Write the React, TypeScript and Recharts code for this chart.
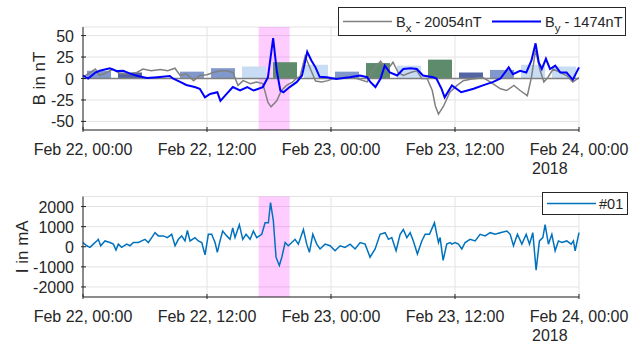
import React from 'react';
import { ComposedChart, Line, Bar, Cell, XAxis, YAxis, CartesianGrid, ReferenceArea, ReferenceLine, Legend } from 'recharts';

const FONT = '"Liberation Sans", Arial, Helvetica, sans-serif';
const INK = '#262626';
const GRID = '#e3e3e3';

// x in hours since Feb 22, 00:00
const xTicks = [0, 12, 24, 36, 48];
const xTickLabels = ['Feb 22, 00:00', 'Feb 22, 12:00', 'Feb 23, 00:00', 'Feb 23, 12:00', 'Feb 24, 00:00'];
const yearLabel = '2018';

const eventWindow = [17, 20];

const bTicks = [-50, -25, 0, 25, 50];
const iTicks = [-2000, -1000, 0, 1000, 2000];

// 3-hour blocks behind the field traces
const blockHours = [1.5, 4.5, 7.5, 10.5, 13.5, 16.5, 19.5, 22.5, 25.5, 28.5, 31.5, 34.5, 37.5, 40.5, 43.5, 46.5];
const blockValues = [9, 7, 0, 8, 12, 14, 19, 16, 8, 18, 15, 22, 7, 10, 16, 14];
const blockKinds = [1, 2, 0, 1, 1, 0, 3, 0, 1, 3, 0, 3, 2, 1, 0, 0];
const blockColors = ['#c8dcf4', '#8098cc', '#5366a3', '#5f8b6d'];

// B_x (offset removed), nT
const bx: [number, number][] = [
  [0, 1.5], [0.7, 7], [1.2, 11], [1.6, 3.5], [2.3, 7], [2.9, 11], [3.6, 5.5], [4.5, 5.5], [5.2, 7], [5.8, 11],
  [6.6, 9], [7.5, 10.5], [8.2, 9], [8.9, 12], [9.4, 3.5], [10, 5.5], [10.7, -2.5], [11.3, 3.5], [12, 4.3], [12.6, 7],
  [13.3, 9], [13.9, 9], [14.5, 7], [15, -8], [15.5, -2.5], [16.2, -6], [16.8, -4], [17.4, -6], [17.9, -28], [18.2, -33],
  [18.75, -26], [19.2, -14], [19.7, -8], [20.3, -4], [20.7, 1], [21, 2], [21.5, 26], [22.05, 10], [22.5, -3], [23.1, -4],
  [23.7, -2.5], [24.2, 0], [25.5, 1.5], [26.5, 0], [27.5, -4], [28.1, 11], [28.8, 20], [29.4, 9], [30, 19], [30.5, 7],
  [31, 3.5], [31.7, 7], [32.3, 9], [32.8, 0], [33.3, 0], [33.8, -14], [34.1, -32], [34.4, -41.5], [34.9, -32], [35.5, -16],
  [36.2, -8], [36.8, -2.5], [37.5, -1], [38.7, 1], [39.4, -4], [40.4, -12], [41, -14], [41.7, -8], [42.3, -14], [43, -20],
  [43.4, 1.5], [43.8, 33], [44.2, 11], [44.6, -4], [45, 1.5], [45.5, 11], [46.2, 7], [46.8, 3.5], [47.4, -4], [48, 1],
];

// B_y (offset removed), nT
const by: [number, number][] = [
  [0, 3.5], [0.5, 0], [1.2, 7], [1.6, 9], [2.6, 12], [3.3, 8.6], [3.9, 9], [4.5, 6], [5.3, 3], [6.2, 0.5],
  [7.2, 1.5], [8.4, 3], [8.7, 0], [9.4, -4], [10, -7.5], [10.8, -10], [11.3, -12], [11.8, -22], [12.3, -18], [13, -16],
  [13.3, -26], [13.9, -18], [14.5, -10], [15.2, -14], [15.9, -10], [16.5, -14], [17.4, -10], [17.9, 1.5], [18.4, 47], [18.75, 9],
  [19.1, -14], [19.4, -16], [20, -10], [20.7, -4], [21.2, 3.5], [21.7, 31], [22.1, 21], [22.5, 13], [22.9, 2], [23.6, 1.5],
  [24.5, -0.5], [25.8, 1.5], [26.8, 3.5], [27.5, 1.5], [27.8, -4], [28.3, -10], [28.8, 0], [29.2, 15], [29.7, 7], [30.4, 3.5],
  [31, 11], [31.7, 12], [32.3, 11], [32.9, 3.5], [33.9, 1.5], [34.2, 0], [34.7, -12], [35, -22], [35.7, -8], [36.6, -16],
  [37.8, -12], [38.7, -8], [39.7, -4], [40.4, 0], [41.2, 13], [41.6, 5], [42.3, 9], [42.9, 7], [43.4, 21], [43.8, 41],
  [44.1, 19], [44.4, 11], [44.8, 23], [45.2, 11], [45.7, 15], [46.2, 7], [46.8, 7], [47.4, -1.5], [48, 13],
];

// current #01, mA
const current: [number, number][] = [
  [0, 210], [0.36, 50], [0.68, -30], [1.0, 130], [1.33, 290], [1.48, 370], [1.71, 50], [2.13, 290], [2.61, 210], [2.94, 130],
  [3.19, -160], [3.42, 130], [3.74, -30], [4.23, 130], [4.55, 50], [4.87, 210], [5.36, 210], [5.68, 290], [6.0, 370], [6.32, 210],
  [6.65, 455], [6.97, 700], [7.29, 540], [7.78, 540], [8.16, 455], [8.58, 620], [8.91, 50], [9.23, 370], [9.55, 540], [9.87, 290],
  [10.1, 810], [10.36, 290], [10.84, 455], [11.16, 290], [11.49, 210], [11.81, -400], [12.13, 620], [12.45, 620], [12.78, 210], [13.0, -280],
  [13.26, 290], [13.52, 780], [13.91, 540], [14.23, 370], [14.49, 940], [14.71, 455], [15.13, 1100], [15.46, 370], [15.78, 620], [16.17, 370],
  [16.49, 780], [16.81, 455], [17.3, 620], [17.62, 1190], [17.94, 1190], [18.15, 2200], [18.42, 1300], [18.68, -520], [19.0, -930], [19.24, -520],
  [19.56, 210], [19.87, 50], [20.2, 210], [20.52, 370], [20.84, 130], [21.33, 860], [21.65, 130], [21.91, -280], [22.24, 620], [22.62, 130],
  [22.94, -110], [23.43, 130], [23.91, 50], [24.39, -200], [24.88, 50], [25.36, -30], [25.85, 130], [26.33, -110], [26.82, 210], [27.3, 130],
  [27.78, -520], [28.27, -110], [28.75, 620], [29.24, 700], [29.56, 370], [29.88, 455], [30.3, -200], [30.69, 620], [31.0, 860], [31.34, 455],
  [31.66, 700], [31.97, 290], [32.36, -360], [32.79, 290], [33.11, 620], [33.53, 620], [34.01, 1190], [34.4, 210], [34.56, 455], [34.85, -680],
  [35.2, 130], [35.53, 210], [35.69, 130], [36.01, 210], [36.33, 130], [36.66, -110], [36.98, 210], [37.46, 370], [37.95, 290], [38.43, 620],
  [38.92, 540], [39.4, 700], [39.88, 620], [40.37, 700], [41.02, 780], [41.34, 620], [41.66, 50], [42.04, 620], [42.47, 130], [42.89, 620],
  [43.21, 130], [43.53, 700], [43.85, -1170], [44.17, 290], [44.5, 455], [44.72, 1100], [45.04, 130], [45.37, 620], [45.69, -200], [46.01, 290],
  [46.34, 210], [46.82, 290], [47.24, 130], [47.46, 290], [47.63, -200], [48.0, 700],
];

const fieldNames = ['x', 'y'];
const fieldOffsets = [20054, 1474];
const fieldColors = ['#808080', '#0000ff'];
const currentName = '#01';
const currentColor = '#0072bd';

const blockData = blockHours.map((h, i) => ({ h, v: blockValues[i] }));
const toRows = (arr: [number, number][]) => arr.map(([h, v]) => ({ h, v }));
const bxData = toRows(bx);
const byData = toRows(by);
const iData = toRows(current);

const XTick = ({ x, y, payload }: any) => {
  const i = xTicks.indexOf(payload.value);
  const last = i === xTicks.length - 1;
  return (
    <g>
      <line x1={x} x2={x} y1={y} y2={y - 5} stroke={INK} />
      <text x={x} y={y + 23} textAnchor="middle" fill={INK} fontSize={16} fontFamily={FONT}>{xTickLabels[i]}</text>
      {last && (
        <text x={x - 47} y={y + 42} textAnchor="start" fill={INK} fontSize={16} fontFamily={FONT}>{yearLabel}</text>
      )}
    </g>
  );
};

const YTick = ({ x, y, payload }: any) => (
  <g>
    <line x1={x} x2={x + 5} y1={y} y2={y} stroke={INK} />
    <text x={x - 7} y={y + 6} textAnchor="end" fill={INK} fontSize={16} fontFamily={FONT}>{payload.value}</text>
  </g>
);

const AxisTitle = ({ viewBox, value, cx }: any) => {
  const cy = viewBox.y + viewBox.height / 2;
  return (
    <text x={cx} y={cy} transform={`rotate(-90 ${cx} ${cy})`} textAnchor="middle" dominantBaseline="central"
      fill={INK} fontSize={17} fontFamily={FONT}>{value}</text>
  );
};

const FieldLegend = () => (
  <svg width={288} height={29} style={{ display: 'block' }}>
    <rect x={0.5} y={0.5} width={287} height={28} fill="#fff" stroke={INK} />
    {fieldNames.map((n, i) => {
      const x0 = 5 + i * 149;
      return (
        <g key={n}>
          <line x1={x0} x2={x0 + 49} y1={14.5} y2={14.5} stroke={fieldColors[i]} strokeWidth={i === 1 ? 2 : 1.5} />
          <text x={x0 + 53} y={19.5} fill={INK} fontSize={14.5} fontFamily={FONT}>
            B<tspan dy={5} fontSize={11.5}>{n}</tspan><tspan dy={-5}>{` - ${fieldOffsets[i]}nT`}</tspan>
          </text>
        </g>
      );
    })}
  </svg>
);

const CurrentLegend = () => (
  <svg width={86} height={23} style={{ display: 'block' }}>
    <rect x={0.5} y={0.5} width={85} height={22} fill="#fff" stroke={INK} />
    <line x1={5} x2={54} y1={11.5} y2={11.5} stroke={currentColor} strokeWidth={1.5} />
    <text x={57} y={16.5} fill={INK} fontSize={14.5} fontFamily={FONT}>{currentName}</text>
  </svg>
);

export default function App() {
  return (
    <div style={{ position: 'absolute', left: 0, top: 0, width: 640, height: 356, background: '#fff' }}>
      <ComposedChart width={640} height={178} data={blockData} margin={{ top: 27, right: 61, bottom: 0, left: 0 }}
        barCategoryGap={0}>
        <CartesianGrid stroke={GRID} />
        <ReferenceArea x1={eventWindow[0]} x2={eventWindow[1]} y1={-60} y2={60} fill="#ff00ff" fillOpacity={0.2} stroke="none" />
        <XAxis type="number" dataKey="h" domain={[0, 48]} ticks={xTicks} interval={0} tick={<XTick />} tickSize={0}
          tickLine={false} axisLine={{ stroke: INK }} height={48} />
        <XAxis xAxisId="blk" type="category" dataKey="h" hide />
        <YAxis type="number" domain={[-60, 60]} ticks={bTicks} interval={0} tick={<YTick />} tickSize={0}
          tickLine={false} axisLine={{ stroke: INK }} width={83}
          label={{ value: 'B in nT', content: (p: any) => <AxisTitle {...p} value="B in nT" cx={39} /> }} />
        <Bar xAxisId="blk" dataKey="v" barSize={24} isAnimationActive={false}>
          {blockValues.map((_, i) => <Cell key={i} fill={blockColors[blockKinds[i]]} />)}
        </Bar>
        <ReferenceLine y={0} stroke="#808080" strokeWidth={1.5} />
        <Line data={bxData} dataKey="v" stroke={fieldColors[0]} strokeWidth={1.5} dot={false} isAnimationActive={false} />
        <Line data={byData} dataKey="v" stroke={fieldColors[1]} strokeWidth={2} dot={false} isAnimationActive={false} />
        <Legend content={<FieldLegend />} layout="horizontal" verticalAlign="middle" align="center"
          wrapperStyle={{ left: 338, top: 7, width: 288, height: 29 }} />
      </ComposedChart>
      <ComposedChart width={640} height={178} data={iData} margin={{ top: 18.5, right: 61, bottom: 0, left: 0 }}>
        <CartesianGrid stroke={GRID} />
        <ReferenceArea x1={eventWindow[0]} x2={eventWindow[1]} y1={-2500} y2={2500} fill="#ff00ff" fillOpacity={0.2} stroke="none" />
        <XAxis type="number" dataKey="h" domain={[0, 48]} ticks={xTicks} interval={0} tick={<XTick />} tickSize={0}
          tickLine={false} axisLine={{ stroke: INK }} height={59} />
        <YAxis type="number" domain={[-2500, 2500]} ticks={iTicks} interval={0} tick={<YTick />} tickSize={0}
          tickLine={false} axisLine={{ stroke: INK }} width={83}
          label={{ value: 'I in mA', content: (p: any) => <AxisTitle {...p} value="I in mA" cx={22} /> }} />
        <Line dataKey="v" stroke={currentColor} strokeWidth={1.5} dot={false} isAnimationActive={false} />
        <Legend content={<CurrentLegend />} layout="horizontal" verticalAlign="middle" align="center"
          wrapperStyle={{ left: 542, top: 14, width: 86, height: 23 }} />
      </ComposedChart>
    </div>
  );
}
